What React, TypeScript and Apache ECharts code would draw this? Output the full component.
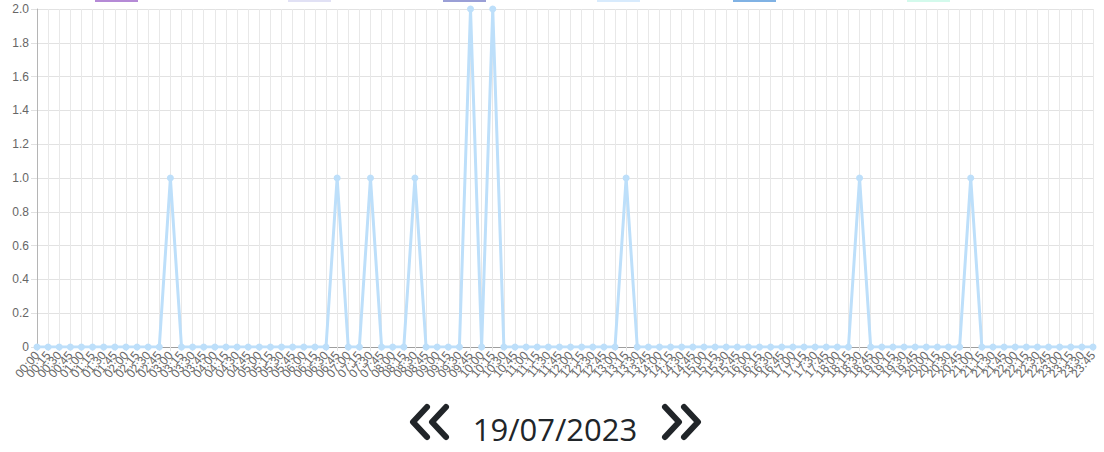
import React, { useEffect, useRef } from 'react';
import * as echarts from 'echarts';

// 15-minute slots for one day
const timeSlots: string[] = [];
for (let h = 0; h < 24; h++) {
  for (const m of ['00', '15', '30', '45']) {
    timeSlots.push(`${String(h).padStart(2, '0')}:${m}`);
  }
}

const counts = [
  0, 0, 0, 0, 0, 0, 0, 0, 0, 0, 0, 0, 1, 0, 0, 0,
  0, 0, 0, 0, 0, 0, 0, 0, 0, 0, 0, 1, 0, 0, 1, 0,
  0, 0, 1, 0, 0, 0, 0, 2, 0, 2, 0, 0, 0, 0, 0, 0,
  0, 0, 0, 0, 0, 1, 0, 0, 0, 0, 0, 0, 0, 0, 0, 0,
  0, 0, 0, 0, 0, 0, 0, 0, 0, 0, 1, 0, 0, 0, 0, 0,
  0, 0, 0, 0, 1, 0, 0, 0, 0, 0, 0, 0, 0, 0, 0, 0,
];

const legendColors = ['#b58ad6', '#e1e1f5', '#9a9fd6', '#d8ebfd', '#80b2e4', '#d3faec'];
const legendX = [95, 288, 443, 597, 733, 907];

const currentDate = '19/07/2023';

const App: React.FC = () => {
  const chartRef = useRef<HTMLDivElement>(null);

  useEffect(() => {
    document.body.style.margin = '0';
    if (!chartRef.current) return;
    const chart = echarts.init(chartRef.current, undefined, { renderer: 'svg' });

    const chevron = (x: number, dir: number) => ({
      type: 'polyline',
      shape: { points: [[x, 407], [x + dir * 14, 422], [x, 437]] },
      style: { stroke: '#212529', lineWidth: 6, lineCap: 'round', lineJoin: 'round', fill: 'none' },
    });

    chart.setOption({
      animation: false,
      grid: { left: 37, right: 11, top: 9, bottom: 105 },
      xAxis: {
        type: 'category',
        data: timeSlots,
        boundaryGap: false,
        axisLine: { lineStyle: { color: '#9e9e9e' } },
        axisTick: { show: true, length: 4, lineStyle: { color: '#e2e2e2' } },
        axisLabel: {
          interval: 0,
          rotate: 50,
          margin: 6,
          fontSize: 12,
          color: '#666',
          fontFamily: 'Liberation Sans, Arial, sans-serif',
        },
        splitLine: { show: true, lineStyle: { color: '#e8e8e8' } },
      },
      yAxis: {
        type: 'value',
        min: 0,
        max: 2,
        interval: 0.2,
        axisLine: { show: true, lineStyle: { color: '#b5b5b5' } },
        axisTick: { show: true, length: 6, lineStyle: { color: '#e0e0e0' } },
        axisLabel: {
          margin: 8,
          fontSize: 12,
          color: '#666',
          fontFamily: 'Liberation Sans, Arial, sans-serif',
          formatter: (v: number) => (v === 0 ? '0' : v.toFixed(1)),
        },
        splitLine: { lineStyle: { color: '#e2e2e2' } },
      },
      series: [
        {
          type: 'line',
          data: counts,
          symbol: 'circle',
          symbolSize: 7,
          lineStyle: { color: '#bddffa', width: 3 },
          itemStyle: { color: '#bddffa' },
        },
      ],
      graphic: [
        ...legendColors.map((c, i) => ({
          type: 'rect',
          shape: { x: legendX[i], y: -8, width: 43, height: 10 },
          style: { fill: c },
        })),
        chevron(427, -1),
        chevron(446, -1),
        chevron(665, 1),
        chevron(684, 1),
        {
          type: 'text',
          x: 555,
          y: 429,
          style: {
            text: currentDate,
            fontSize: 31,
            fontFamily: 'Open Sans, Noto Sans, sans-serif',
            fill: '#212529',
            align: 'center',
            verticalAlign: 'middle',
          },
        },
      ],
    });

    return () => chart.dispose();
  }, []);

  return <div ref={chartRef} style={{ width: 1104, height: 452 }} />;
};

export default App;
